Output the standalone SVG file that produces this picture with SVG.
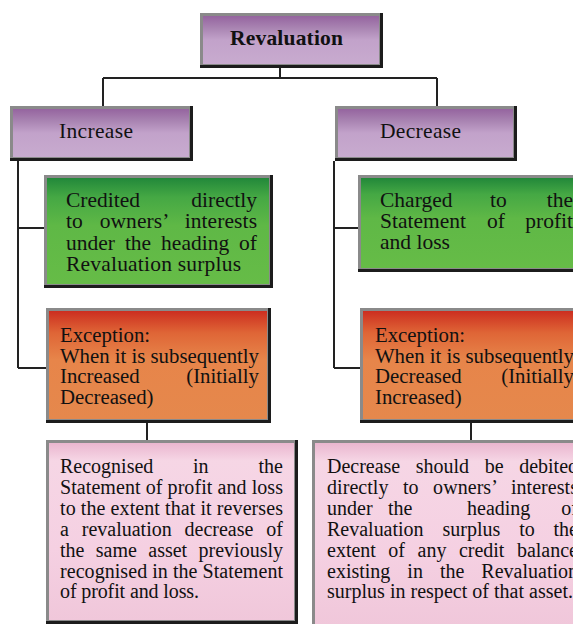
<svg xmlns="http://www.w3.org/2000/svg" width="573" height="624" viewBox="0 0 573 624">
<defs>
<linearGradient id="gP" x1="0" y1="0" x2="0" y2="1">
<stop offset="0" stop-color="#95649f"/><stop offset="0.25" stop-color="#a984b2"/><stop offset="0.5" stop-color="#c2a2ca"/><stop offset="1" stop-color="#c8abcf"/>
</linearGradient>
<linearGradient id="gG" x1="0" y1="0" x2="0" y2="1">
<stop offset="0" stop-color="#22883a"/><stop offset="0.18" stop-color="#45a844"/><stop offset="0.45" stop-color="#5fb846"/><stop offset="1" stop-color="#66bc47"/>
</linearGradient>
<linearGradient id="gO" x1="0" y1="0" x2="0" y2="1">
<stop offset="0" stop-color="#cc2e20"/><stop offset="0.2" stop-color="#df6536"/><stop offset="0.45" stop-color="#e7854a"/><stop offset="1" stop-color="#e5884c"/>
</linearGradient>
<linearGradient id="gK" x1="0" y1="0" x2="0" y2="1">
<stop offset="0" stop-color="#eab6cf"/><stop offset="0.1" stop-color="#f6d6e5"/><stop offset="0.6" stop-color="#f5d0e2"/><stop offset="1" stop-color="#f0c7da"/>
</linearGradient>
</defs>
<style>
.dk{fill:#1c1c1c}
.gr{fill:#8a8a8a}
text{font-family:"Liberation Serif","Times New Roman",serif;fill:#111}
.h{font-size:21.5px}
.g{font-size:21.5px}
.o{font-size:20.8px}
.p{font-size:20px}
.b{font-weight:bold}
.e{text-anchor:end}
.ln{stroke:#222;stroke-width:2;fill:none}
</style>

<g id="connectors">
<path class="ln" d="M280 68V78M103 78H437M103 78V106M437 78V106"/>
<path class="ln" d="M18 161V368M18 228H44M18 368H46"/>
<path class="ln" d="M334 161V368M334 228H358M334 368H360"/>
<path class="ln" d="M147 423V440M471 423V440"/>
</g>

<g id="revaluation">
<rect class="dk" x="200" y="13" width="183" height="55"/>
<rect class="gr" x="200" y="13" width="180" height="52"/>
<rect fill="url(#gP)" x="203" y="16" width="176" height="48"/>
<text class="h b" x="230" y="45" textLength="113" lengthAdjust="spacing">Revaluation</text>
</g>

<g id="increase">
<rect class="dk" x="10" y="106" width="183" height="55"/>
<rect class="gr" x="10" y="106" width="180" height="52"/>
<rect fill="url(#gP)" x="13" y="109" width="176" height="48"/>
<text class="h" x="59" y="138" textLength="74" lengthAdjust="spacing">Increase</text>
</g>

<g id="decrease">
<rect class="dk" x="335" y="106" width="182" height="55"/>
<rect class="gr" x="335" y="106" width="179" height="52"/>
<rect fill="url(#gP)" x="338" y="109" width="175" height="48"/>
<text class="h" x="380" y="138" textLength="81" lengthAdjust="spacing">Decrease</text>
</g>

<g id="credited">
<rect class="dk" x="44" y="175" width="229" height="113"/>
<rect class="gr" x="44" y="175" width="226" height="110"/>
<rect fill="url(#gG)" x="47" y="178" width="222" height="106"/>
<text class="g" x="66" y="207">Credited</text>
<text class="g e" x="257" y="207">directly</text>
<text class="g" x="66" y="228" word-spacing="11.3" textLength="191" lengthAdjust="spacing">to owners’ interests</text>
<text class="g" x="66" y="249.5" word-spacing="4.6" textLength="191" lengthAdjust="spacing">under the heading of</text>
<text class="g" x="66" y="270.5" textLength="175" lengthAdjust="spacing">Revaluation surplus</text>
</g>

<g id="charged">
<rect class="dk" x="358" y="175" width="230" height="97"/>
<rect class="gr" x="358" y="175" width="227" height="94"/>
<rect fill="url(#gG)" x="361" y="178" width="223" height="90"/>
<text class="g" x="380" y="207">Charged</text>
<text class="g" x="490" y="207">to</text>
<text class="g e" x="573" y="207">the</text>
<text class="g" x="380" y="228">Statement</text>
<text class="g" x="487" y="228">of</text>
<text class="g e" x="573" y="228">profit</text>
<text class="g" x="380" y="249">and loss</text>
</g>

<g id="exception-left">
<rect class="dk" x="46" y="308" width="225" height="115"/>
<rect class="gr" x="46" y="308" width="222" height="112"/>
<rect fill="url(#gO)" x="49" y="311" width="218" height="108"/>
<text class="o" x="60" y="342">Exception:</text>
<text class="o" x="60" y="362.5" textLength="199" lengthAdjust="spacing">When it is subsequently</text>
<text class="o" x="60" y="383">Increased</text>
<text class="o e" x="259" y="383">(Initially</text>
<text class="o" x="60" y="403.5">Decreased)</text>
</g>

<g id="exception-right">
<rect class="dk" x="360" y="308" width="230" height="115"/>
<rect class="gr" x="360" y="308" width="227" height="112"/>
<rect fill="url(#gO)" x="363" y="311" width="223" height="108"/>
<text class="o" x="375" y="342">Exception:</text>
<text class="o" x="375" y="362.5" textLength="199" lengthAdjust="spacing">When it is subsequently</text>
<text class="o" x="375" y="383">Decreased</text>
<text class="o e" x="574" y="383">(Initially</text>
<text class="o" x="375" y="403.5">Increased)</text>
</g>

<g id="recognised">
<rect class="dk" x="46" y="440" width="252" height="184"/>
<rect class="gr" x="46" y="440" width="249" height="181"/>
<rect fill="url(#gK)" x="49" y="443" width="245" height="177"/>
<text class="p" x="60" y="473">Recognised</text>
<text class="p" x="193" y="473">in</text>
<text class="p e" x="283" y="473">the</text>
<text class="p" x="60" y="494" textLength="223" lengthAdjust="spacing">Statement of profit and loss</text>
<text class="p" x="60" y="515" textLength="223" lengthAdjust="spacing">to the extent that it reverses</text>
<text class="p" x="60" y="536" word-spacing="8" textLength="223" lengthAdjust="spacing">a revaluation decrease of</text>
<text class="p" x="60" y="556.5" word-spacing="6.3" textLength="223" lengthAdjust="spacing">the same asset previously</text>
<text class="p" x="60" y="577.5" textLength="223" lengthAdjust="spacing">recognised in the Statement</text>
<text class="p" x="60" y="598" textLength="139" lengthAdjust="spacing">of profit and loss.</text>
</g>

<g id="decrease-debited">
<rect class="dk" x="312" y="440" width="280" height="190"/>
<rect class="gr" x="312" y="440" width="277" height="187"/>
<rect fill="url(#gK)" x="315" y="443" width="273" height="183"/>
<text class="p" x="327" y="473" word-spacing="10.7" textLength="251" lengthAdjust="spacing">Decrease should be debited</text>
<text class="p" x="327" y="494" word-spacing="9.4" textLength="251" lengthAdjust="spacing">directly to owners’ interests</text>
<text class="p" x="327" y="515">under</text>
<text class="p" x="388" y="515">the</text>
<text class="p" x="467" y="515">heading</text>
<text class="p e" x="578" y="515">of</text>
<text class="p" x="327" y="536" word-spacing="13.9" textLength="251" lengthAdjust="spacing">Revaluation surplus to the</text>
<text class="p" x="327" y="556.5" word-spacing="7.5" textLength="251" lengthAdjust="spacing">extent of any credit balance</text>
<text class="p" x="327" y="577.5" word-spacing="12" textLength="251" lengthAdjust="spacing">existing in the Revaluation</text>
<text class="p" x="327" y="598" textLength="246" lengthAdjust="spacing">surplus in respect of that asset.</text>
</g>
</svg>
